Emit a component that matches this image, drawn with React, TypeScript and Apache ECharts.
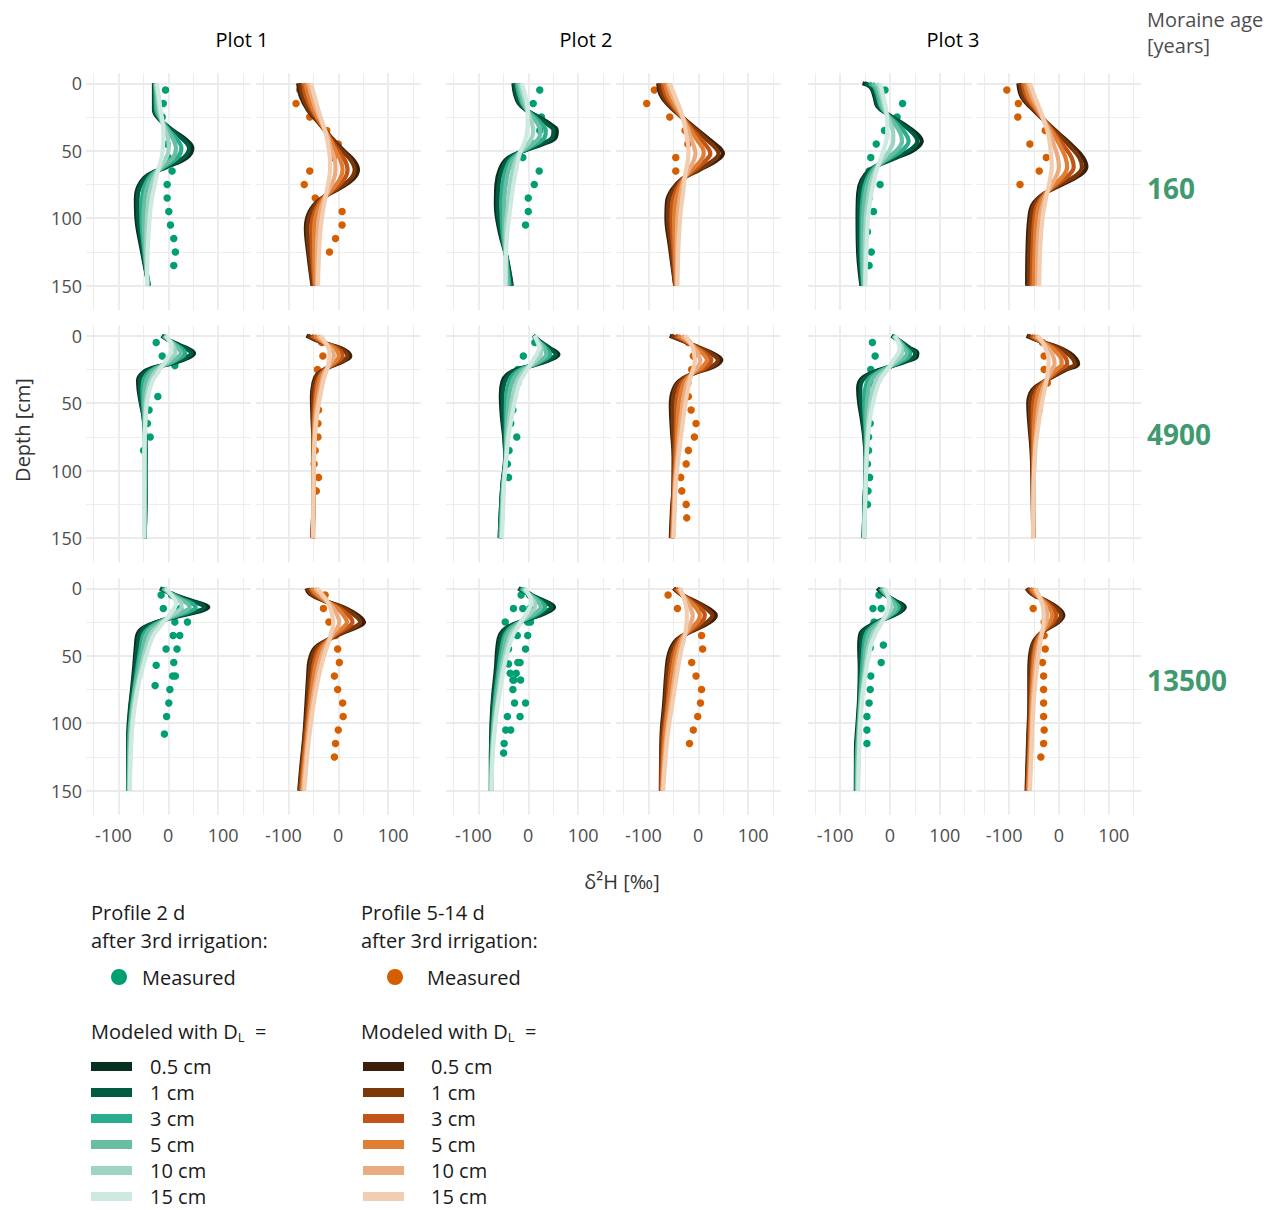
import React, { useEffect, useRef } from 'react';
import * as echarts from 'echarts';

// ---------- labels & colours ----------
const dlLabels = ['0.5 cm', '1 cm', '3 cm', '5 cm', '10 cm', '15 cm'];
const greenShades = ['#08301f', '#005c40', '#2aad8c', '#67bea3', '#9dd4c3', '#cde9e0'];
const brownShades = ['#3c1e0b', '#7a3708', '#c25419', '#e07f31', '#eaab80', '#f3cdb0'];
const measuredGreen = '#009E73';
const measuredOrange = '#D55E00';
const plotTitles = ['Plot 1', 'Plot 2', 'Plot 3'];
const moraineAges = ['160', '4900', '13500'];
const xTickLabels = [-100, 0, 100];
const yTickLabels = [0, 50, 100, 150];
const xMajorGrid = [-90.9, 0, 90.9];
const xMinorGrid = [-136.4, -45.5, 45.5, 136.4];
const yMajorGrid = [0, 50, 100, 150];
const yMinorGrid = [25, 75, 125];
const legendHeaders = ['Profile 2 d', 'Profile 5-14 d'];

// ---------- modelled profiles: [depth, DL0.5, DL1, DL3, DL5, DL10, DL15] ----------
const modelR1P1g = [
  [0, -26, -25, -24, -23, -22, -21], [10, -26, -25, -23, -21, -19, -17], [20, -26, -25, -22, -19, -16, -14],
  [27, -15, -15, -13, -13, -12, -11], [35, 9, 7, 2, -1, -5, -9], [42, 33, 28, 17, 10, 0, -9],
  [48, 44, 38, 24, 14, 1, -10], [55, 34, 28, 17, 9, -3, -12], [62, -3, -5, -8, -11, -14, -17],
  [68, -37, -35, -31, -28, -24, -21], [76, -54, -51, -43, -38, -31, -25], [86, -59, -56, -48, -43, -36, -30],
  [100, -58, -55, -49, -45, -39, -34], [120, -50, -48, -45, -43, -40, -37], [150, -35, -36, -36, -37, -38, -39],
];
const modelR1P1b = [
  [0, -73, -70, -64, -60, -55, -50], [10, -68, -65, -59, -54, -48, -43], [20, -55, -53, -48, -45, -40, -36],
  [30, -34, -33, -32, -31, -29, -28], [40, -13, -14, -16, -17, -19, -21], [50, 10, 7, 0, -5, -12, -17],
  [57, 28, 23, 12, 4, -6, -15], [64, 36, 30, 17, 8, -5, -15], [71, 27, 22, 11, 3, -8, -17],
  [78, 2, -1, -6, -10, -16, -20], [86, -33, -32, -30, -28, -26, -24], [95, -52, -49, -43, -39, -33, -28],
  [107, -59, -56, -49, -44, -37, -32], [125, -55, -53, -48, -44, -39, -35], [150, -47, -46, -43, -42, -39, -37],
];
const modelR1P2g = [
  [0, -27, -25, -21, -19, -15, -12], [8, -24, -22, -17, -14, -10, -6], [15, -17, -15, -11, -9, -5, -2],
  [20, -3, -3, -2, -2, -1, -1], [25, 19, 17, 12, 8, 3, -1], [30, 39, 34, 24, 17, 7, -1],
  [35, 52, 46, 32, 22, 9, -2], [40, 50, 44, 30, 20, 7, -4], [45, 27, 23, 14, 8, -1, -8],
  [50, -8, -9, -10, -11, -13, -14], [56, -39, -36, -31, -27, -22, -18], [64, -52, -48, -41, -36, -28, -22],
  [75, -58, -54, -47, -41, -33, -27], [90, -59, -56, -49, -44, -37, -32], [110, -52, -50, -47, -44, -41, -38],
  [130, -39, -39, -40, -40, -41, -41], [150, -30, -31, -34, -37, -40, -42],
];
const modelR1P2b = [
  [0, -73, -70, -65, -61, -56, -52], [8, -69, -66, -60, -55, -49, -44], [15, -57, -55, -50, -46, -41, -37],
  [24, -33, -33, -32, -31, -30, -29], [33, -6, -8, -13, -16, -20, -24], [42, 21, 16, 6, -2, -12, -20],
  [48, 39, 32, 18, 8, -7, -18], [52, 45, 37, 22, 10, -5, -18], [57, 34, 28, 14, 5, -8, -19],
  [64, 3, 0, -6, -11, -17, -22], [71, -30, -29, -28, -27, -26, -25], [79, -48, -45, -40, -36, -31, -27],
  [88, -57, -54, -47, -42, -35, -30], [100, -58, -55, -49, -44, -38, -33], [120, -52, -50, -46, -43, -39, -36],
  [150, -42, -42, -41, -40, -39, -38],
];
const modelR1P3g = [
  [0, -50, -46, -38, -32, -24, -18], [3, -35, -33, -28, -25, -20, -16], [10, -28, -26, -22, -19, -15, -12],
  [17, -23, -21, -17, -15, -11, -8], [23, -4, -4, -5, -5, -6, -6], [30, 24, 21, 13, 8, 1, -5],
  [37, 48, 42, 28, 19, 6, -5], [43, 58, 50, 34, 22, 6, -7], [49, 45, 38, 24, 14, 0, -11],
  [54, 18, 14, 6, 0, -8, -15], [59, -12, -13, -15, -16, -18, -20], [64, -36, -35, -32, -29, -26, -24],
  [72, -52, -49, -43, -39, -34, -29], [82, -58, -55, -49, -45, -39, -34], [100, -59, -57, -52, -49, -44, -40],
  [125, -58, -56, -52, -50, -46, -43], [150, -52, -51, -49, -48, -46, -45],
];
const modelR1P3b = [
  [0, -74, -71, -66, -62, -57, -53], [10, -68, -65, -59, -55, -49, -44], [18, -51, -49, -45, -43, -39, -36],
  [27, -28, -28, -28, -28, -28, -28], [37, -1, -3, -8, -11, -16, -20], [47, 26, 21, 10, 3, -8, -16],
  [55, 44, 37, 23, 12, -2, -14], [62, 50, 42, 27, 15, 0, -13], [68, 38, 32, 18, 9, -4, -15],
  [75, 5, 2, -4, -8, -13, -18], [82, -28, -27, -26, -25, -23, -22], [90, -48, -45, -40, -36, -30, -26],
  [100, -54, -51, -45, -41, -35, -30], [120, -57, -54, -48, -44, -39, -34], [150, -58, -55, -50, -46, -40, -36],
];
const modelR2P1g = [
  [0, -12, -11, -9, -8, -6, -4], [3, 0, 0, 0, 1, 1, 1], [7, 21, 19, 15, 13, 9, 6],
  [10, 38, 34, 26, 20, 12, 6], [13, 47, 42, 31, 23, 13, 4], [16, 38, 33, 24, 17, 7, -1],
  [20, 12, 10, 5, 2, -3, -7], [24, -30, -28, -24, -21, -17, -14], [28, -48, -45, -38, -33, -26, -20],
  [33, -55, -52, -45, -40, -33, -28], [40, -54, -52, -47, -43, -38, -34], [50, -50, -49, -46, -44, -41, -39],
  [60, -45, -45, -44, -43, -42, -41], [75, -42, -42, -42, -43, -43, -43], [100, -41, -41, -42, -42, -43, -44],
  [150, -43, -43, -43, -44, -44, -44],
];
const modelR2P1b = [
  [0, -58, -55, -49, -44, -38, -33], [3, -42, -40, -36, -34, -30, -27], [6, -21, -21, -21, -22, -22, -22],
  [9, 4, 1, -4, -8, -14, -18], [12, 17, 13, 5, -1, -9, -16], [15, 22, 17, 8, 1, -8, -16],
  [19, 9, 6, -1, -5, -12, -17], [24, -21, -21, -21, -20, -20, -20], [29, -39, -37, -33, -31, -27, -24],
  [35, -45, -43, -39, -36, -31, -28], [45, -48, -46, -42, -40, -36, -33], [60, -47, -46, -44, -43, -41, -39],
  [85, -45, -45, -45, -45, -44, -44], [110, -45, -45, -45, -45, -45, -45], [150, -47, -47, -47, -46, -46, -46],
];
const modelR2P2g = [
  [0, 9, 9, 10, 10, 11, 12], [4, 21, 20, 19, 18, 17, 16], [9, 39, 37, 32, 29, 24, 20],
  [14, 55, 50, 40, 33, 23, 15], [18, 39, 35, 28, 23, 15, 9], [22, 9, 8, 7, 6, 4, 3],
  [25, -21, -19, -14, -11, -6, -2], [29, -39, -35, -28, -22, -14, -8], [34, -47, -43, -35, -29, -21, -15],
  [44, -50, -47, -40, -35, -28, -22], [60, -48, -46, -41, -38, -34, -30], [75, -44, -43, -41, -40, -38, -36],
  [90, -42, -42, -41, -41, -40, -40], [110, -47, -47, -46, -45, -45, -44], [130, -50, -50, -49, -48, -47, -46],
  [150, -52, -52, -51, -50, -49, -48],
];
const modelR2P2b = [
  [0, -52, -49, -42, -37, -30, -24], [3, -33, -31, -27, -25, -21, -18], [7, -9, -9, -10, -11, -11, -12],
  [12, 21, 18, 10, 5, -2, -8], [15, 35, 30, 19, 12, 1, -7], [18, 42, 36, 24, 16, 4, -6],
  [21, 36, 31, 20, 12, 2, -7], [24, 22, 18, 11, 5, -3, -9], [28, -9, -9, -10, -11, -11, -12],
  [34, -36, -34, -29, -25, -20, -16], [42, -47, -44, -37, -32, -25, -20], [52, -50, -47, -40, -36, -29, -24],
  [70, -48, -46, -41, -38, -34, -30], [90, -45, -44, -42, -40, -38, -36], [110, -45, -45, -44, -43, -42, -41],
  [130, -48, -47, -46, -45, -44, -43], [150, -50, -49, -48, -47, -46, -45],
];
const modelR2P3g = [
  [0, 3, 4, 5, 6, 8, 9], [4, 18, 18, 17, 16, 15, 14], [9, 36, 34, 29, 26, 22, 18],
  [13, 50, 46, 37, 31, 22, 15], [16, 48, 43, 34, 27, 18, 10], [19, 30, 27, 21, 16, 10, 5],
  [23, 0, 0, 0, -1, -1, -1], [27, -30, -27, -22, -18, -12, -8], [32, -52, -48, -39, -33, -24, -17],
  [39, -58, -54, -45, -39, -31, -24], [50, -56, -53, -47, -42, -36, -31], [60, -52, -50, -46, -43, -39, -36],
  [75, -47, -46, -44, -43, -41, -40], [95, -44, -44, -44, -44, -43, -43], [120, -46, -46, -46, -45, -45, -45],
  [150, -48, -48, -48, -47, -47, -47],
];
const modelR2P3b = [
  [0, -59, -56, -51, -47, -42, -38], [4, -35, -35, -34, -33, -32, -31], [9, 2, -1, -8, -13, -20, -25],
  [13, 20, 15, 5, -3, -13, -21], [17, 31, 25, 13, 4, -9, -19], [21, 35, 29, 15, 5, -8, -19],
  [25, 14, 10, 1, -5, -13, -20], [29, -5, -7, -11, -14, -18, -21], [34, -27, -27, -26, -25, -24, -23],
  [40, -48, -45, -40, -36, -30, -26], [50, -56, -53, -47, -42, -36, -31], [65, -54, -52, -48, -45, -40, -37],
  [85, -50, -49, -47, -46, -44, -43], [110, -48, -48, -47, -47, -46, -46], [150, -47, -47, -47, -47, -47, -47],
];
const modelR3P1g = [
  [0, -15, -14, -11, -9, -6, -4], [4, 6, 6, 5, 5, 4, 4], [8, 33, 30, 25, 21, 15, 11],
  [11, 58, 53, 42, 34, 24, 15], [14, 73, 66, 50, 39, 24, 12], [17, 58, 52, 39, 30, 17, 7],
  [21, 15, 13, 9, 7, 3, 0], [25, -21, -20, -17, -14, -11, -9], [29, -45, -42, -34, -29, -22, -16],
  [34, -56, -52, -45, -40, -32, -26], [43, -59, -56, -50, -46, -40, -35], [58, -62, -60, -56, -53, -49, -46],
  [75, -66, -65, -62, -61, -58, -56], [90, -70, -69, -67, -66, -64, -62], [110, -73, -72, -71, -70, -68, -67],
  [150, -73, -73, -72, -72, -71, -70],
];
const modelR3P1b = [
  [0, -58, -56, -51, -48, -43, -39], [4, -52, -49, -44, -40, -34, -30], [9, -27, -26, -25, -24, -22, -21],
  [14, 9, 6, 0, -4, -10, -15], [18, 28, 23, 13, 6, -4, -12], [22, 42, 36, 23, 13, 0, -10],
  [25, 47, 40, 26, 16, 2, -9], [29, 33, 28, 17, 9, -1, -10], [33, 8, 5, 0, -4, -9, -13],
  [38, -18, -18, -17, -17, -16, -16], [44, -42, -39, -34, -30, -25, -21], [53, -52, -49, -43, -39, -33, -28],
  [66, -55, -53, -48, -45, -40, -36], [86, -58, -56, -53, -51, -48, -45], [110, -62, -61, -59, -57, -55, -53],
  [135, -68, -67, -65, -63, -61, -59], [150, -71, -70, -68, -66, -64, -62],
];
const modelR3P2g = [
  [0, -18, -17, -14, -11, -8, -6], [4, 0, 0, 0, 0, 0, 0], [8, 22, 20, 16, 13, 8, 5],
  [11, 38, 34, 26, 20, 12, 6], [14, 47, 42, 31, 23, 12, 3], [17, 38, 33, 24, 17, 7, -1],
  [20, 22, 19, 12, 7, 0, -5], [24, -9, -9, -10, -11, -11, -12], [29, -39, -37, -32, -28, -23, -19],
  [34, -51, -48, -42, -38, -32, -27], [43, -56, -53, -48, -44, -39, -35], [60, -59, -57, -54, -51, -48, -45],
  [80, -64, -63, -60, -58, -55, -53], [100, -67, -66, -64, -63, -61, -60], [125, -68, -68, -67, -66, -66, -65],
  [150, -68, -68, -68, -67, -67, -67],
];
const modelR3P2b = [
  [0, -45, -44, -41, -38, -35, -33], [4, -33, -33, -32, -31, -30, -29], [9, -9, -11, -15, -18, -22, -25],
  [14, 15, 11, 1, -5, -15, -22], [17, 26, 20, 9, 0, -12, -21], [20, 32, 26, 12, 3, -10, -21],
  [24, 25, 19, 8, 0, -12, -21], [28, 8, 4, -3, -9, -16, -22], [32, -13, -14, -17, -19, -21, -23],
  [38, -39, -37, -34, -32, -29, -26], [48, -53, -50, -45, -41, -36, -32], [62, -58, -56, -51, -47, -42, -38],
  [85, -62, -60, -56, -54, -50, -47], [110, -67, -66, -63, -61, -58, -56], [150, -68, -68, -67, -66, -65, -64],
];
const modelR3P3g = [
  [0, -23, -21, -18, -15, -12, -9], [4, -12, -11, -9, -8, -6, -5], [9, 9, 8, 5, 3, 0, -2],
  [14, 27, 23, 16, 11, 3, -3], [19, 12, 10, 5, 2, -3, -7], [24, -18, -17, -16, -15, -14, -13],
  [29, -42, -39, -34, -30, -24, -20], [34, -54, -51, -44, -39, -32, -27], [43, -56, -53, -48, -44, -39, -35],
  [60, -55, -54, -51, -48, -45, -43], [80, -56, -55, -54, -53, -51, -50], [100, -59, -58, -57, -56, -55, -54],
  [120, -62, -61, -60, -59, -57, -56], [150, -62, -62, -61, -60, -59, -58],
];
const modelR3P3b = [
  [0, -59, -57, -53, -50, -45, -42], [4, -50, -49, -46, -43, -40, -38], [9, -25, -26, -28, -29, -31, -33],
  [14, -4, -7, -13, -18, -24, -29], [20, 8, 4, -5, -12, -21, -28], [25, -1, -4, -11, -16, -23, -28],
  [31, -25, -26, -27, -28, -29, -30], [38, -44, -43, -40, -38, -35, -33], [48, -52, -50, -46, -44, -40, -37],
  [62, -54, -52, -49, -47, -44, -41], [85, -54, -53, -51, -50, -48, -46], [110, -56, -55, -53, -52, -50, -49],
  [150, -59, -58, -57, -56, -54, -53],
];

// ---------- measured points: [d2H, depth] ----------
const measR1P1g = [[-5, 5], [-9, 15], [-11, 25], [3, 35], [-2, 45], [0, 55], [7, 65], [-2, 75], [-2, 85], [1, 95], [4, 105], [10, 115], [13, 125], [10, 135]];
const measR1P1b = [[-70, 5], [-77, 15], [-52, 25], [-21, 35], [0, 45], [-9, 55], [-52, 65], [-62, 75], [-42, 85], [7, 95], [7, 105], [-5, 115], [-16, 125]];
const measR1P2g = [[21, 5], [9, 15], [24, 25], [21, 35], [9, 45], [-10, 55], [20, 65], [11, 75], [0, 85], [0, 95], [-5, 105]];
const measR1P2b = [[-80, 5], [-94, 15], [-52, 25], [-24, 35], [-19, 45], [-41, 55], [-41, 65]];
const measR1P3g = [[-9, 5], [23, 15], [13, 25], [-10, 35], [-25, 45], [-35, 55], [-38, 65], [-18, 75], [-38, 85], [-30, 95], [-41, 110], [-34, 125], [-38, 135]];
const measR1P3b = [[-95, 5], [-74, 15], [-75, 25], [-25, 35], [-53, 45], [-23, 55], [-36, 65], [-71, 75]];
const measR2P1g = [[-22, 5], [-11, 15], [12, 22], [-19, 45], [-35, 55], [-38, 65], [-33, 75], [-45, 85]];
const measR2P1b = [[-30, 5], [-28, 15], [-38, 25], [-42, 35], [-41, 45], [-36, 55], [-37, 65], [-37, 75], [-42, 85], [-44, 95], [-36, 105], [-40, 115]];
const measR2P2g = [[12, 5], [-9, 15], [-19, 25], [-19, 35], [-26, 45], [-28, 55], [-32, 65], [-21, 75], [-35, 85], [-38, 95], [-36, 105]];
const measR2P2b = [[-18, 5], [-9, 15], [-12, 25], [-19, 35], [-18, 45], [-13, 55], [-4, 65], [-7, 75], [-18, 85], [-22, 95], [-32, 105], [-30, 115], [-22, 125], [-21, 135]];
const measR2P3g = [[-32, 5], [-27, 15], [-35, 25], [-35, 35], [-39, 45], [-39, 52], [-36, 65], [-39, 75], [-39, 85], [-41, 95], [-37, 105], [-40, 115], [-41, 125]];
const measR2P3b = [[-30, 5], [-27, 15], [-27, 25], [-21, 35], [-35, 45], [-36, 55]];
const measR3P1g = [[-13, 5], [6, 5], [-9, 15], [21, 15], [12, 25], [35, 25], [9, 35], [21, 35], [-4, 45], [16, 45], [-22, 57], [10, 55], [8, 65], [13, 65], [-24, 72], [3, 75], [1, 85], [-3, 95], [-7, 108]];
const measR3P1b = [[-24, 5], [-27, 15], [-17, 25], [-5, 35], [-1, 45], [2, 55], [-7, 65], [-1, 75], [8, 85], [9, 95], [0, 105], [-5, 115], [-7, 125]];
const measR3P2g = [[-13, 5], [2, 5], [-27, 15], [-10, 15], [3, 15], [-42, 25], [-1, 25], [4, 25], [-35, 35], [-20, 35], [-1, 35], [-41, 45], [-36, 45], [-5, 45], [-36, 56], [-19, 55], [-15, 55], [-33, 63], [-22, 63], [-26, 68], [-14, 68], [-28, 68], [-28, 75], [-25, 85], [-5, 85], [-38, 95], [-15, 95], [-41, 105], [-32, 105], [-44, 115], [-45, 122]];
const measR3P2b = [[-55, 5], [-38, 15], [6, 35], [8, 45], [-12, 55], [-4, 65], [6, 75], [4, 85], [-1, 95], [-9, 105], [-16, 115]];
const measR3P3g = [[-20, 5], [-31, 15], [-16, 15], [-29, 25], [-36, 35], [-12, 42], [-36, 44], [-16, 55], [-35, 65], [-36, 75], [-38, 85], [-42, 95], [-42, 105], [-42, 115]];
const measR3P3b = [[-41, 5], [-47, 15], [-27, 25], [-27, 35], [-25, 45], [-30, 55], [-28, 65], [-28, 75], [-28, 85], [-28, 95], [-27, 105], [-28, 115], [-33, 125]];

const panels = [
  { model: modelR1P1g, meas: measR1P1g, green: true }, { model: modelR1P1b, meas: measR1P1b, green: false },
  { model: modelR1P2g, meas: measR1P2g, green: true }, { model: modelR1P2b, meas: measR1P2b, green: false },
  { model: modelR1P3g, meas: measR1P3g, green: true }, { model: modelR1P3b, meas: measR1P3b, green: false },
  { model: modelR2P1g, meas: measR2P1g, green: true }, { model: modelR2P1b, meas: measR2P1b, green: false },
  { model: modelR2P2g, meas: measR2P2g, green: true }, { model: modelR2P2b, meas: measR2P2b, green: false },
  { model: modelR2P3g, meas: measR2P3g, green: true }, { model: modelR2P3b, meas: measR2P3b, green: false },
  { model: modelR3P1g, meas: measR3P1g, green: true }, { model: modelR3P1b, meas: measR3P1b, green: false },
  { model: modelR3P2g, meas: measR3P2g, green: true }, { model: modelR3P2b, meas: measR3P2b, green: false },
  { model: modelR3P3g, meas: measR3P3g, green: true }, { model: modelR3P3b, meas: measR3P3b, green: false },
];

// ---------- layout ----------
const FONT = '"Open Sans", "Noto Sans", sans-serif';
const gridColor = '#ebebeb';
const gridLefts = [86, 256, 446, 616, 807.7, 976.7];
const gridWidth = 164.5;
const rowTops = [73.2, 325.6, 578.2];
const gridHeight = 236.8;

function txt(text: string, x: number, y: number, opts: any = {}) {
  return {
    type: 'text', x, y, rotation: opts.rotation || 0, silent: true,
    style: {
      text, fill: opts.color || '#1a1a1a', fontSize: opts.size || 20, fontFamily: FONT,
      fontWeight: opts.weight || 'normal',
      align: opts.align || 'left', textAlign: opts.align || 'left',
      verticalAlign: 'middle', textVerticalAlign: 'middle',
      rich: opts.rich,
    },
  };
}

function buildOption() {
  const grid: any[] = [];
  const xAxis: any[] = [];
  const yAxis: any[] = [];
  const series: any[] = [];
  panels.forEach((p, i) => {
    const row = Math.floor(i / 6);
    const col = i % 6;
    grid.push({ left: gridLefts[col], top: rowTops[row], width: gridWidth, height: gridHeight });
    const xi = xAxis.length;
    xAxis.push({
      gridIndex: i, type: 'value', min: -150, max: 150,
      axisLine: { show: false },
      axisTick: { show: false, customValues: xMajorGrid },
      splitLine: { show: true, lineStyle: { color: gridColor, width: 1.8 } },
      axisLabel: {
        show: row === 2, customValues: xTickLabels, fontSize: 18, color: '#4d4d4d', fontFamily: FONT,
        margin: 11, formatter: (v: number) => String(v),
      },
    });
    xAxis.push({
      gridIndex: i, type: 'value', min: -150, max: 150, position: 'bottom',
      axisLine: { show: false },
      axisTick: { show: false, customValues: xMinorGrid },
      splitLine: { show: true, lineStyle: { color: gridColor, width: 0.9 } },
      axisLabel: { show: false },
    });
    const yi = yAxis.length;
    yAxis.push({
      gridIndex: i, type: 'value', inverse: true, min: -7.5, max: 168,
      axisLine: { show: false },
      axisTick: { show: false, customValues: yMajorGrid },
      splitLine: { show: true, lineStyle: { color: gridColor, width: 1.8 } },
      axisLabel: {
        show: col === 0, customValues: yTickLabels, fontSize: 18, color: '#4d4d4d', fontFamily: FONT, margin: 4,
      },
    });
    yAxis.push({
      gridIndex: i, type: 'value', inverse: true, min: -7.5, max: 168, position: 'left',
      axisLine: { show: false },
      axisTick: { show: false, customValues: yMinorGrid },
      splitLine: { show: true, lineStyle: { color: gridColor, width: 0.9 } },
      axisLabel: { show: false },
    });
    const shades = p.green ? greenShades : brownShades;
    for (let k = 0; k < 6; k++) {
      series.push({
        type: 'line', name: dlLabels[k], xAxisIndex: xi, yAxisIndex: yi,
        data: p.model.map((r) => [r[k + 1], r[0]]),
        smooth: 0.4, symbol: 'none', showSymbol: false, silent: true,
        lineStyle: { color: shades[k], width: 4.2 },
      });
    }
    series.push({
      type: 'scatter', xAxisIndex: xi, yAxisIndex: yi, data: p.meas, symbolSize: 7.5, silent: true,
      itemStyle: { color: p.green ? measuredGreen : measuredOrange, opacity: 1 },
    });
  });

  const graphic: any[] = [];
  const titleX = [242, 586, 953];
  plotTitles.forEach((t, i) => graphic.push(txt(t, titleX[i], 39, { align: 'center', size: 20, color: '#000' })));
  graphic.push(txt('Moraine age', 1147, 19, { color: '#4d4d4d', size: 20 }));
  graphic.push(txt('[years]', 1147, 45, { color: '#4d4d4d', size: 20 }));
  const ageY = [188, 434, 680];
  moraineAges.forEach((a, i) => graphic.push(txt(a, 1147, ageY[i], { size: 28, weight: 'bold', color: '#3f9a6f' })));
  graphic.push(txt('Depth [cm]', 22, 430, { align: 'center', rotation: Math.PI / 2, color: '#333' }));
  graphic.push(txt('δ²H [‰]', 622, 881, { align: 'center', color: '#333' }));

  // legend
  const legX = [91, 361];
  const circX = [119, 395];
  const measTextX = [142, 427];
  const swX = [91, 363];
  const swLabelX = [150, 431];
  const swY = [1066.5, 1092.5, 1118.5, 1144.5, 1170.5, 1196.5];
  [0, 1].forEach((c) => {
    graphic.push(txt(legendHeaders[c], legX[c], 912));
    graphic.push(txt('after 3rd irrigation:', legX[c], 940));
    graphic.push({ type: 'circle', shape: { cx: circX[c], cy: 977, r: 8 }, style: { fill: c === 0 ? measuredGreen : measuredOrange }, silent: true });
    graphic.push(txt('Measured', measTextX[c], 977));
    graphic.push(txt('{a|Modeled with D}{s|L}{a|  =}', legX[c], 1031, {
      rich: {
        a: { fontSize: 20, fontFamily: FONT, fill: '#1a1a1a', color: '#1a1a1a', lineHeight: 25 },
        s: { fontSize: 13, fontFamily: FONT, fill: '#1a1a1a', color: '#1a1a1a', lineHeight: 13, verticalAlign: 'bottom' },
      },
    }));
    const shades = c === 0 ? greenShades : brownShades;
    dlLabels.forEach((l, k) => {
      graphic.push({ type: 'rect', shape: { x: swX[c], y: swY[k] - 4.5, width: 41, height: 9 }, style: { fill: shades[k] }, silent: true });
      graphic.push(txt(l, swLabelX[c], swY[k]));
    });
  });

  return { animation: false, backgroundColor: '#ffffff', grid, xAxis, yAxis, series, graphic };
}

export default function App() {
  const ref = useRef<HTMLDivElement>(null);
  useEffect(() => {
    const chart = echarts.init(ref.current as HTMLDivElement, null, { renderer: 'svg' });
    chart.setOption(buildOption() as any);
    return () => chart.dispose();
  }, []);
  return <div ref={ref} style={{ position: 'absolute', left: 0, top: 0, width: 1272, height: 1210 }} />;
}
